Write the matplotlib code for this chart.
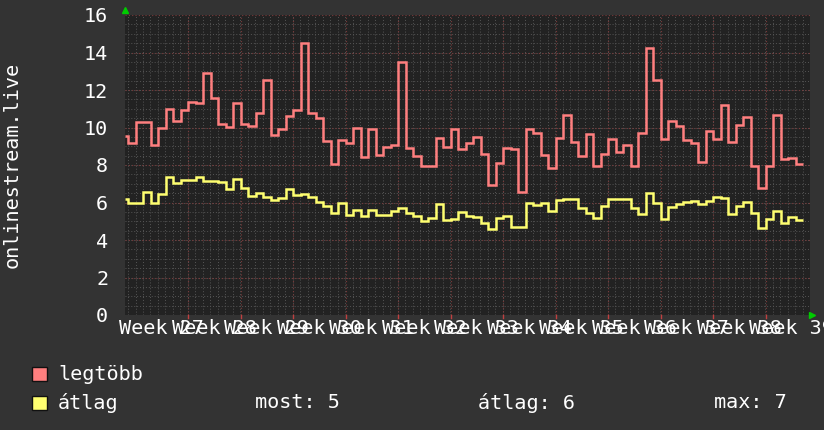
import numpy as np
import matplotlib
matplotlib.use("Agg")
import matplotlib.pyplot as plt

plt.rcParams['font.family'] = ['DejaVu Sans Mono']

# napi értékek (első elem egy rövid, részleges nap)
legtobb = [9.55, 9.17, 10.3, 10.3, 9.07, 10.0, 11.0, 10.36, 10.93, 11.38, 11.33,
           12.93, 11.6, 10.19, 10.04, 11.3, 10.2, 10.1, 10.8, 12.53, 9.6,
           9.92, 10.6, 10.93, 14.52, 10.8, 10.53, 9.3, 8.05, 9.33, 9.19,
           10.0, 8.45, 9.92, 8.53, 8.94, 9.07, 13.5, 8.93, 8.48, 7.95,
           7.95, 9.44, 8.98, 9.92, 8.85, 9.2, 9.51, 8.59, 6.93, 8.12,
           8.93, 8.84, 6.54, 9.9, 9.73, 8.53, 7.86, 9.42, 10.67, 9.24,
           8.48, 9.65, 7.95, 8.57, 9.39, 8.71, 9.07, 7.95, 9.73, 14.26,
           12.53, 9.39, 10.36, 10.08, 9.33, 9.16, 8.14, 9.83, 9.37, 11.2,
           9.21, 10.13, 10.58, 7.95, 6.79, 7.95, 10.67, 8.3, 8.35, 8.05]
atlag = [6.19, 5.99, 5.99, 6.58, 5.99, 6.45, 7.38, 7.02, 7.2, 7.2, 7.38,
         7.15, 7.15, 7.12, 6.72, 7.25, 6.79, 6.35, 6.52, 6.31, 6.13,
         6.22, 6.72, 6.4, 6.45, 6.31, 6.04, 5.83, 5.42, 5.96, 5.33,
         5.6, 5.3, 5.6, 5.35, 5.35, 5.56, 5.72, 5.45, 5.3, 5.03,
         5.15, 5.9, 5.07, 5.1, 5.51, 5.28, 5.24, 4.92, 4.59, 5.16,
         5.28, 4.71, 4.71, 5.99, 5.87, 5.96, 5.55, 6.13, 6.19, 6.19,
         5.69, 5.42, 5.16, 5.83, 6.19, 6.19, 6.19, 5.69, 5.37, 6.52,
         5.99, 5.12, 5.78, 5.9, 6.04, 6.08, 5.9, 6.08, 6.31, 6.26,
         5.37, 5.83, 6.04, 5.46, 4.66, 5.12, 5.56, 4.92, 5.24, 5.07]
week_labels = ["Week %d" % w for w in range(27, 40)]
legend_stats = ["most: 5", "átlag: 6", "max: 7"]

bg = "#333333"
plot_bg = "#222222"
red = "#ff7f7f"
yellow = "#ffff70"

fig = plt.figure(figsize=(8.24, 4.30), dpi=100, facecolor=bg)
ax = fig.add_axes([125/824, 1-315/430, 685/824, 300/430])
ax.set_facecolor(plot_bg)

# nap-határok: az első nap csak 0.4 napnyi
n = len(legtobb)
edges = np.concatenate([[0.0], 0.4 + np.arange(n)])
xmax = 685 / 7.5
ax.set_xlim(0, xmax)
ax.set_ylim(0, 16)

# rács
for x in np.arange(0.4, xmax, 1.0):
    ax.axvline(x, color="#555555", lw=0.7, ls=(0, (1, 2)), zorder=1)
for y in np.arange(0.5, 16, 0.5):
    ax.axhline(y, color="#555555", lw=0.7, ls=(0, (1, 2)), zorder=1)
week_lines = 8.4 + 7 * np.arange(12)
for x in week_lines:
    ax.axvline(x, color="#7a3a3a", lw=0.8, ls=(0, (1, 2)), zorder=1)
for y in range(2, 17, 2):
    ax.axhline(y, color="#7a3a3a", lw=0.8, ls=(0, (1, 2)), zorder=1)

ax.stairs(legtobb, edges, color=red, lw=1.8, baseline=None, zorder=3)
ax.stairs(atlag, edges, color=yellow, lw=1.8, baseline=None, zorder=3)

for s in ax.spines.values():
    s.set_visible(False)
ax.set_yticks(range(0, 17, 2))
ax.tick_params(axis="y", colors="white", labelsize=14.5, length=0, pad=12)
ax.set_xticks(week_lines - 3.5)
ax.set_xticklabels(week_labels[:12])
ax.tick_params(axis="x", colors="white", labelsize=14.5, length=0, pad=3)
ax.text(week_lines[-1] + 3.5, -0.2, week_labels[12], color="white", fontsize=14.5,
        ha="center", va="top", clip_on=False)
for x in week_lines:
    ax.plot([x, x], [0, -0.15], color="#c04040", lw=1, clip_on=False)

# tengely nyilak
ax.plot([0], [16.25], marker="^", color="#00cc00", ms=4, clip_on=False)
ax.plot([xmax + 0.2], [0], marker=">", color="#00cc00", ms=4, clip_on=False)

fig.text(12/824, 1-165/430, "onlinestream.live", rotation=90, color="white",
         fontsize=14.5, ha="center", va="center")

# jelmagyarázat
for yc, col, lab in [(374, red, "legtöbb"), (403, yellow, "átlag")]:
    fig.patches.append(plt.Rectangle((32/824, 1-(yc+7)/430), 15/824, 14/430,
                                     transform=fig.transFigure, facecolor=col,
                                     edgecolor="#111111", lw=1))
    fig.text(58/824, 1-yc/430, lab, color="white", fontsize=14.5, va="center")
for xs, lab in zip([255, 478, 714], legend_stats):
    fig.text(xs/824, 1-403/430, lab, color="white", fontsize=14.5, va="center")

fig.savefig("out.png", dpi=100, facecolor=bg)
